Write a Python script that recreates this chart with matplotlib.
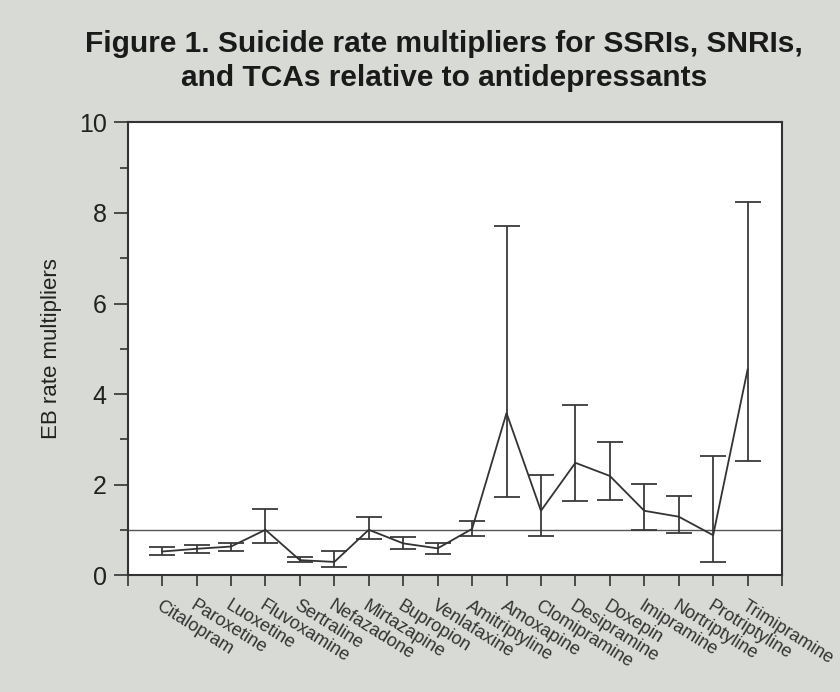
import numpy as np
import matplotlib
matplotlib.use("Agg")
import matplotlib.pyplot as plt

plt.rcParams['font.family'] = ['Liberation Sans', 'DejaVu Sans']

drugs = ["Citalopram", "Paroxetine", "Luoxetine", "Fluvoxamine", "Sertraline",
         "Nefazadone", "Mirtazapine", "Bupropion", "Venlafaxine", "Amitriptyline",
         "Amoxapine", "Clomipramine", "Desipramine", "Doxepin", "Imipramine",
         "Nortriptyline", "Protriptyline", "Trimipramine"]
rate = [0.52, 0.58, 0.63, 1.0, 0.33, 0.29, 1.0, 0.70, 0.59, 1.02,
        3.58, 1.42, 2.48, 2.19, 1.42, 1.29, 0.88, 4.54]
lower = [0.44, 0.49, 0.54, 0.70, 0.29, 0.17, 0.80, 0.57, 0.47, 0.87,
         1.72, 0.86, 1.64, 1.66, 0.99, 0.94, 0.29, 2.52]
upper = [0.63, 0.67, 0.71, 1.47, 0.39, 0.54, 1.29, 0.83, 0.71, 1.19,
         7.71, 2.21, 3.76, 2.93, 2.01, 1.75, 2.63, 8.24]

bg = "#d8dad5"
fig = plt.figure(figsize=(8.4, 6.92), dpi=100, facecolor=bg)
ax = fig.add_axes([0.152, 0.169, 0.779, 0.654])
ax.set_facecolor("white")

x = np.arange(len(drugs))
rate = np.array(rate)
yerr = [rate - np.array(lower), np.array(upper) - rate]

ax.axhline(1, color="#555555", lw=1.0, zorder=1)
ax.errorbar(x, rate, yerr=yerr, color="#333333", ecolor="#3a3a3a", lw=1.3,
            elinewidth=1.3, capsize=9.5, capthick=1.3, zorder=3)

ax.set_xlim(-1, 18)
ax.set_ylim(0, 10)
ax.set_xticks(np.arange(-1, 19))
ax.set_xticklabels([""] + drugs + [""], rotation=-32, ha="left",
                   rotation_mode="anchor", fontsize=13, color="#222222")
ax.set_yticks([0, 2, 4, 6, 8, 10])
ax.set_yticks([1, 3, 5, 7, 9], minor=True)
ax.tick_params(axis="y", labelsize=18, length=10, width=1.2, colors="#333333",
               labelcolor="#222222", pad=5)
ax.tick_params(axis="y", which="minor", length=6, width=1.2, colors="#333333")
ax.tick_params(axis="x", length=8, width=1.2, colors="#333333", pad=8)
for s in ax.spines.values():
    s.set_color("#333333")
    s.set_linewidth(1.5)

ax.set_ylabel("EB rate multipliers", fontsize=16, color="#222222", labelpad=12)

fig.text(0.529, 0.912, "Figure 1. Suicide rate multipliers for SSRIs, SNRIs,\nand TCAs relative to antidepressants",
         ha="center", va="center", fontsize=21.5, fontweight="bold",
         color="#1a1a1a", linespacing=1.3)

fig.savefig("out.png", dpi=100, facecolor=bg)
